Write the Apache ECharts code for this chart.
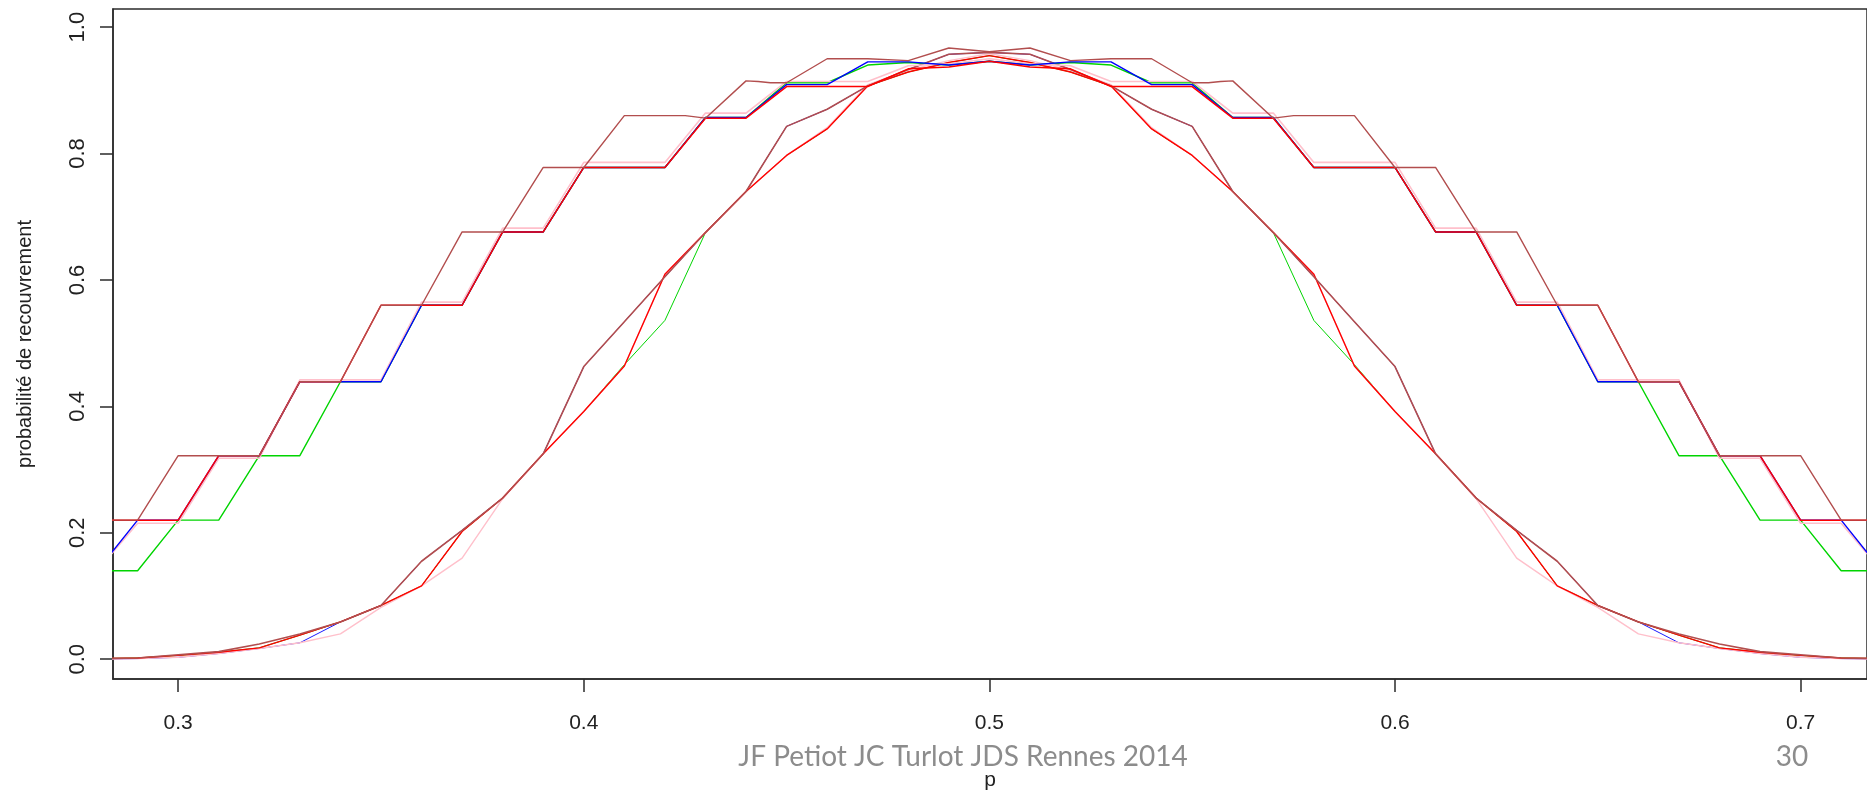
<!DOCTYPE html>
<html>
<head>
<meta charset="utf-8">
<title>probabilité de recouvrement</title>
<script src="https://cdn.jsdelivr.net/npm/echarts@6/dist/echarts.min.js"></script>
<style>
  html, body { margin: 0; padding: 0; background: #fff; }
  #chart { width: 1867px; height: 796px; }
</style>
</head>
<body>
<div id="chart"></div>
<script>
// graduations
const xTicks = [0.3, 0.4, 0.5, 0.6, 0.7];
const yTicks = [0, 0.2, 0.4, 0.6, 0.8, 1.0];

// courbes en escalier (haut) : [p, probabilité]
const greenUp = [[0.28,0.140],[0.29,0.140],[0.30,0.220],[0.31,0.220],[0.32,0.322],[0.33,0.322],[0.34,0.439],[0.35,0.439],[0.36,0.560],[0.37,0.560],[0.38,0.676],[0.39,0.676],[0.40,0.778],[0.41,0.778],[0.42,0.778],[0.43,0.857],[0.44,0.857],[0.45,0.912],[0.46,0.912],[0.47,0.940],[0.48,0.944],[0.49,0.940],[0.50,0.946],[0.51,0.940],[0.52,0.944],[0.53,0.940],[0.54,0.912],[0.55,0.912],[0.56,0.857],[0.57,0.857],[0.58,0.778],[0.59,0.778],[0.60,0.778],[0.61,0.676],[0.62,0.676],[0.63,0.560],[0.64,0.560],[0.65,0.439],[0.66,0.439],[0.67,0.322],[0.68,0.322],[0.69,0.220],[0.70,0.220],[0.71,0.140],[0.72,0.140]];
const pinkUp = [[0.28,0.140],[0.29,0.215],[0.30,0.215],[0.31,0.318],[0.32,0.318],[0.33,0.442],[0.34,0.442],[0.35,0.442],[0.36,0.565],[0.37,0.565],[0.38,0.682],[0.39,0.682],[0.40,0.786],[0.41,0.786],[0.42,0.786],[0.43,0.864],[0.44,0.864],[0.45,0.914],[0.46,0.914],[0.47,0.914],[0.48,0.939],[0.49,0.942],[0.50,0.950],[0.51,0.942],[0.52,0.939],[0.53,0.914],[0.54,0.914],[0.55,0.914],[0.56,0.864],[0.57,0.864],[0.58,0.786],[0.59,0.786],[0.60,0.786],[0.61,0.682],[0.62,0.682],[0.63,0.565],[0.64,0.565],[0.65,0.442],[0.66,0.442],[0.67,0.442],[0.68,0.318],[0.69,0.318],[0.70,0.215],[0.71,0.215],[0.72,0.140]];
const blueUp = [[0.28,0.140],[0.29,0.220],[0.30,0.220],[0.31,0.322],[0.32,0.322],[0.33,0.439],[0.34,0.439],[0.35,0.439],[0.36,0.560],[0.37,0.560],[0.38,0.676],[0.39,0.676],[0.40,0.778],[0.41,0.778],[0.42,0.778],[0.43,0.857],[0.44,0.857],[0.45,0.909],[0.46,0.909],[0.47,0.945],[0.48,0.945],[0.49,0.940],[0.50,0.946],[0.51,0.940],[0.52,0.945],[0.53,0.945],[0.54,0.909],[0.55,0.909],[0.56,0.857],[0.57,0.857],[0.58,0.778],[0.59,0.778],[0.60,0.778],[0.61,0.676],[0.62,0.676],[0.63,0.560],[0.64,0.560],[0.65,0.439],[0.66,0.439],[0.67,0.439],[0.68,0.322],[0.69,0.322],[0.70,0.220],[0.71,0.220],[0.72,0.140]];
const redUp = [[0.28,0.220],[0.29,0.220],[0.30,0.220],[0.31,0.322],[0.32,0.322],[0.33,0.439],[0.34,0.439],[0.35,0.560],[0.36,0.560],[0.37,0.560],[0.38,0.676],[0.39,0.676],[0.40,0.778],[0.41,0.778],[0.42,0.778],[0.43,0.856],[0.44,0.856],[0.45,0.906],[0.46,0.906],[0.47,0.906],[0.48,0.934],[0.49,0.937],[0.50,0.946],[0.51,0.937],[0.52,0.934],[0.53,0.906],[0.54,0.906],[0.55,0.906],[0.56,0.856],[0.57,0.856],[0.58,0.778],[0.59,0.778],[0.60,0.778],[0.61,0.676],[0.62,0.676],[0.63,0.560],[0.64,0.560],[0.65,0.560],[0.66,0.439],[0.67,0.439],[0.68,0.322],[0.69,0.322],[0.70,0.220],[0.71,0.220],[0.72,0.220]];
const brownUp = [[0.28,0.220],[0.29,0.220],[0.30,0.322],[0.31,0.322],[0.32,0.322],[0.33,0.439],[0.34,0.439],[0.35,0.560],[0.36,0.560],[0.37,0.676],[0.38,0.676],[0.39,0.778],[0.40,0.778],[0.41,0.860],[0.425,0.860],[0.43,0.856],[0.44,0.915],[0.443,0.914],[0.446,0.912],[0.45,0.912],[0.46,0.950],[0.47,0.950],[0.48,0.947],[0.49,0.967],[0.50,0.961],[0.51,0.967],[0.52,0.947],[0.53,0.950],[0.54,0.950],[0.55,0.912],[0.554,0.912],[0.557,0.914],[0.56,0.915],[0.57,0.856],[0.575,0.860],[0.59,0.860],[0.60,0.778],[0.61,0.778],[0.62,0.676],[0.63,0.676],[0.64,0.560],[0.65,0.560],[0.66,0.439],[0.67,0.439],[0.68,0.322],[0.69,0.322],[0.70,0.322],[0.71,0.220],[0.72,0.220]];

// courbes en cloche (bas)
const blueLow = [[0.28,0.000],[0.29,0.001],[0.30,0.003],[0.31,0.009],[0.32,0.017],[0.33,0.026],[0.34,0.059],[0.35,0.085],[0.36,0.155],[0.37,0.204],[0.38,0.255],[0.39,0.325],[0.40,0.463],[0.41,0.534],[0.42,0.605],[0.43,0.675],[0.44,0.740],[0.45,0.843],[0.46,0.870],[0.47,0.907],[0.48,0.933],[0.49,0.957],[0.50,0.960],[0.51,0.957],[0.52,0.933],[0.53,0.907],[0.54,0.870],[0.55,0.843],[0.56,0.740],[0.57,0.675],[0.58,0.605],[0.59,0.534],[0.60,0.463],[0.61,0.325],[0.62,0.255],[0.63,0.204],[0.64,0.155],[0.65,0.085],[0.66,0.059],[0.67,0.026],[0.68,0.017],[0.69,0.009],[0.70,0.003],[0.71,0.001],[0.72,0.000]];
const greenLow = [[0.28,0.001],[0.29,0.002],[0.30,0.006],[0.31,0.011],[0.32,0.018],[0.33,0.038],[0.34,0.059],[0.35,0.085],[0.36,0.116],[0.37,0.202],[0.38,0.255],[0.39,0.325],[0.40,0.392],[0.41,0.466],[0.42,0.536],[0.43,0.675],[0.44,0.740],[0.45,0.797],[0.46,0.839],[0.47,0.907],[0.48,0.929],[0.49,0.944],[0.50,0.955],[0.51,0.944],[0.52,0.929],[0.53,0.907],[0.54,0.839],[0.55,0.797],[0.56,0.740],[0.57,0.675],[0.58,0.536],[0.59,0.466],[0.60,0.392],[0.61,0.325],[0.62,0.255],[0.63,0.202],[0.64,0.116],[0.65,0.085],[0.66,0.059],[0.67,0.038],[0.68,0.018],[0.69,0.011],[0.70,0.006],[0.71,0.002],[0.72,0.001]];
const pinkLow = [[0.28,0.000],[0.29,0.001],[0.30,0.003],[0.31,0.009],[0.32,0.017],[0.33,0.026],[0.34,0.040],[0.35,0.082],[0.36,0.116],[0.37,0.160],[0.38,0.254],[0.39,0.325],[0.40,0.392],[0.41,0.464],[0.42,0.609],[0.43,0.675],[0.44,0.740],[0.45,0.797],[0.46,0.841],[0.47,0.909],[0.48,0.932],[0.49,0.947],[0.50,0.958],[0.51,0.947],[0.52,0.932],[0.53,0.909],[0.54,0.841],[0.55,0.797],[0.56,0.740],[0.57,0.675],[0.58,0.609],[0.59,0.464],[0.60,0.392],[0.61,0.325],[0.62,0.254],[0.63,0.160],[0.64,0.116],[0.65,0.082],[0.66,0.040],[0.67,0.026],[0.68,0.017],[0.69,0.009],[0.70,0.003],[0.71,0.001],[0.72,0.000]];
const redLow = [[0.28,0.001],[0.29,0.002],[0.30,0.006],[0.31,0.011],[0.32,0.018],[0.33,0.038],[0.34,0.059],[0.35,0.085],[0.36,0.116],[0.37,0.202],[0.38,0.255],[0.39,0.325],[0.40,0.392],[0.41,0.464],[0.42,0.609],[0.43,0.675],[0.44,0.740],[0.45,0.797],[0.46,0.839],[0.47,0.907],[0.48,0.929],[0.49,0.944],[0.50,0.955],[0.51,0.944],[0.52,0.929],[0.53,0.907],[0.54,0.839],[0.55,0.797],[0.56,0.740],[0.57,0.675],[0.58,0.609],[0.59,0.464],[0.60,0.392],[0.61,0.325],[0.62,0.255],[0.63,0.202],[0.64,0.116],[0.65,0.085],[0.66,0.059],[0.67,0.038],[0.68,0.018],[0.69,0.011],[0.70,0.006],[0.71,0.002],[0.72,0.001]];
const brownLow = [[0.28,0.001],[0.29,0.002],[0.30,0.007],[0.31,0.012],[0.32,0.024],[0.33,0.040],[0.34,0.059],[0.35,0.085],[0.36,0.155],[0.37,0.204],[0.38,0.255],[0.39,0.325],[0.40,0.463],[0.41,0.534],[0.42,0.605],[0.43,0.675],[0.44,0.740],[0.45,0.843],[0.46,0.870],[0.47,0.907],[0.48,0.933],[0.49,0.957],[0.50,0.960],[0.51,0.957],[0.52,0.933],[0.53,0.907],[0.54,0.870],[0.55,0.843],[0.56,0.740],[0.57,0.675],[0.58,0.605],[0.59,0.534],[0.60,0.463],[0.61,0.325],[0.62,0.255],[0.63,0.204],[0.64,0.155],[0.65,0.085],[0.66,0.059],[0.67,0.040],[0.68,0.024],[0.69,0.012],[0.70,0.007],[0.71,0.002],[0.72,0.001]];

const COLORS = { blue: '#0000ff', green: '#00d400', pink: '#ffc0cb', red: '#ff0000', brown: '#b24e4e' };
const AXIS_FONT = 'Liberation Sans, Arial, sans-serif';
const AXIS_COLOR = '#2b2b2b';

function line(name, data, color, width) {
    return {
        name: name,
        type: 'line',
        data: data,
        symbol: 'none',
        showSymbol: false,
        silent: true,
        clip: true,
        lineStyle: { color: color, width: width },
        itemStyle: { color: color }
    };
}

const chart = echarts.init(document.getElementById('chart'), null, { renderer: 'canvas' });

chart.setOption({
    backgroundColor: '#fff',
    animation: false,
    grid: {
        left: 113, top: 9, right: -3, bottom: 110,
        show: true, borderColor: AXIS_COLOR, borderWidth: 1.5, backgroundColor: 'transparent'
    },
    xAxis: {
        type: 'value',
        min: 0.28393,
        max: 0.71637,
        axisLine: { show: true, onZero: false, lineStyle: { color: AXIS_COLOR, width: 1.5 } },
        splitLine: { show: false },
        axisTick: { show: true, inside: false, length: 13, customValues: xTicks, lineStyle: { color: AXIS_COLOR, width: 1.5 } },
        axisLabel: {
            customValues: xTicks, margin: 34, fontSize: 21, color: '#222',
            fontFamily: AXIS_FONT, formatter: v => v.toFixed(1)
        },
        name: 'p',
        nameLocation: 'middle',
        nameGap: 91,
        nameTextStyle: { fontSize: 21, color: '#222', fontFamily: AXIS_FONT }
    },
    yAxis: {
        type: 'value',
        min: -0.0313,
        max: 1.0287,
        axisLine: { show: true, onZero: false, lineStyle: { color: AXIS_COLOR, width: 1.5 } },
        splitLine: { show: false },
        axisTick: { show: true, inside: false, length: 13, customValues: yTicks, lineStyle: { color: AXIS_COLOR, width: 1.5 } },
        axisLabel: {
            customValues: yTicks, margin: 24, fontSize: 22, color: '#222', rotate: 90,
            fontFamily: AXIS_FONT, formatter: v => v.toFixed(1)
        },
        name: 'probabilité de recouvrement',
        nameLocation: 'middle',
        nameGap: 78,
        nameTextStyle: { fontSize: 20, color: '#222', fontFamily: AXIS_FONT }
    },
    graphic: [
        {
            type: 'text', x: 963, y: 757,
            style: { text: 'JF Petiot JC Turlot JDS Rennes 2014', fill: '#8c8c8c', fontSize: 28, fontFamily: 'Lato, Open Sans, sans-serif', align: 'center', verticalAlign: 'middle' }
        },
        {
            type: 'text', x: 1792, y: 757,
            style: { text: '30', fill: '#8c8c8c', fontSize: 28, fontFamily: 'Lato, Open Sans, sans-serif', align: 'center', verticalAlign: 'middle' }
        }
    ],
    series: [
        // cloches (les courbes cachées dessous sont plus fines)
        line('blueLow', blueLow, COLORS.blue, 0.9),
        line('greenLow', greenLow, COLORS.green, 1.0),
        line('pinkLow', pinkLow, COLORS.pink, 1.4),
        line('redLow', redLow, COLORS.red, 1.4),
        line('brownLow', brownLow, COLORS.brown, 1.6),
        // escaliers
        line('greenUp', greenUp, COLORS.green, 1.4),
        line('pinkUp', pinkUp, COLORS.pink, 1.6),
        line('blueUp', blueUp, COLORS.blue, 1.4),
        line('redUp', redUp, COLORS.red, 1.5),
        line('brownUp', brownUp, COLORS.brown, 1.4)
    ]
});
</script>
</body>
</html>
